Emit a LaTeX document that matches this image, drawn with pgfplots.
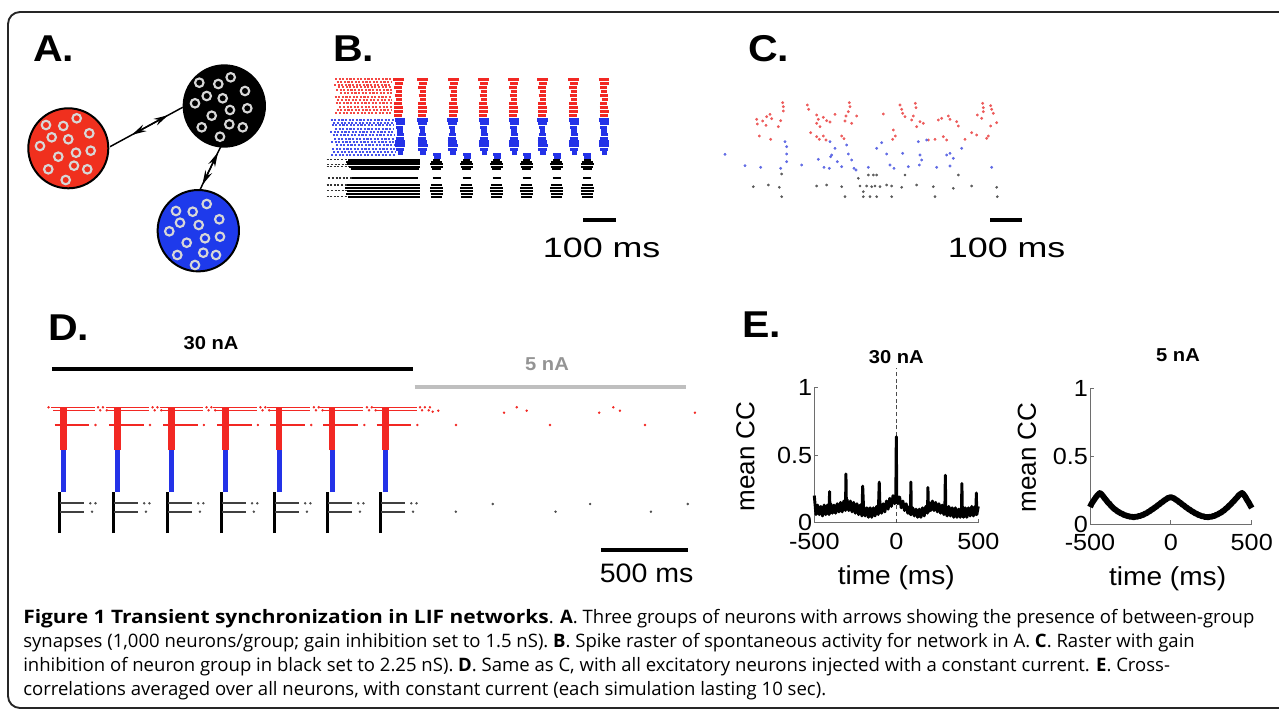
\documentclass[border=0pt]{standalone}
\usepackage{fontspec}
\setmainfont{Liberation Sans}
\newfontfamily\capfont{Open Sans}
\usepackage{pgfplots}
\pgfplotsset{compat=1.18}
\usetikzlibrary{arrows.meta,calc}

\definecolor{gred}{RGB}{240,48,30}
\definecolor{gblue}{RGB}{30,58,235}
\definecolor{ring}{RGB}{215,215,215}
\definecolor{rred}{RGB}{242,40,35}
\definecolor{rblue}{RGB}{35,50,232}
\definecolor{cred}{RGB}{236,90,90}
\definecolor{cblue}{RGB}{95,105,228}
\definecolor{cgray}{RGB}{90,90,90}
\definecolor{axgray}{RGB}{110,110,110}

\newcommand\sx[2]{\scalebox{#1}[1]{#2}}

\pgfplotsset{
  raster/.style={hide axis, clip=false, anchor=south west},
  hseg/.style={quiver={u=\thisrow{u},v=0}},
  vseg/.style={quiver={u=0,v=\thisrow{v}}},
  cc/.style={scale only axis, anchor=south west,
    xmin=-500, xmax=500, ymin=0, ymax=1, clip=false,
    axis x line*=bottom, axis y line*=left,
    axis line style={-, axgray, line width=0.7pt},
    xtick={-500,0,500}, xticklabels={\sx{1.08}{-500},\sx{1.08}{0},\sx{1.08}{500}},
    ytick={0,0.5,1}, yticklabels={\sx{1.08}{0},\sx{1.08}{0.5},\sx{1.08}{1}},
    tick align=inside, major tick length=3pt,
    tick style={axgray, line width=0.6pt},
    tick label style={font=\fontsize{17.5}{17.5}\selectfont},
    xticklabel style={yshift=-4pt}, yticklabel style={xshift=2pt},
    xlabel={\sx{1.08}{time (ms)}}, ylabel={mean CC},
    label style={font=\fontsize{19.5}{19.5}\selectfont},
    title style={font=\fontsize{14}{14}\selectfont\bfseries, anchor=center}},
}

\begin{document}
\begin{tikzpicture}
\useasboundingbox (0,0) rectangle (959.25pt,-534.75pt);
\begin{scope}[x=0.75pt,y=-0.75pt]

% frame
\draw[line width=1.4pt, black!85, rounded corners=9] (1300,12) -- (8,12) -- (8,708) -- (1300,708);

% panel letters
\foreach \t/\px/\py in {A./33/62, B./333/62, C./748/62, D./48/340, E./742/337}
  \node[anchor=base west, inner sep=0, font=\fontsize{28}{28}\selectfont\bfseries] at (\px,\py) {\sx{1.1}{\t}};

% ---------- A: network ----------
\coordinate (ra) at (110,146.7); \coordinate (kb) at (182.7,107.3);
\coordinate (ka) at (220.7,146.7); \coordinate (bb) at (198.3,193.3);
\draw[line width=1.1pt] (ra) -- (kb);
\draw[line width=1.1pt] (ka) -- (bb);
\draw[line width=1.1pt, -{Stealth[length=11pt,width=5.5pt]}] ($(ra)!0.53!(kb)$) -- ($(ra)!0.80!(kb)$);
\draw[line width=1.1pt, -{Stealth[length=11pt,width=5.5pt]}] ($(ra)!0.53!(kb)$) -- ($(ra)!0.30!(kb)$);
\draw[line width=1.1pt, -{Stealth[length=11pt,width=5.5pt]}] ($(ka)!0.47!(bb)$) -- ($(ka)!0.12!(bb)$);
\draw[line width=1.1pt, -{Stealth[length=11pt,width=5.5pt]}] ($(ka)!0.47!(bb)$) -- ($(ka)!0.82!(bb)$);
\filldraw[fill=gred, draw=black, line width=1.5pt] (68.3,148.3) circle[radius=30pt];
\filldraw[fill=black, draw=black, line width=1.5pt] (224.3,106) circle[radius=30.5pt];
\filldraw[fill=gblue, draw=black, line width=1.5pt] (198.3,230.7) circle[radius=30.5pt];
\foreach \p in {(46,125),(63.3,126),(76.7,118.3),(89.3,133.3),(51.7,137.3),(68.3,139.3),(40,146),(58.3,156.7),(76,152.7),(90.7,150.7),(48.3,169.3),(74,165.7),(87.3,169.3),(65.7,180),
  (199.3,82.7),(218.3,84),(230.7,77.3),(245,91),(195,103.3),(206.7,96),(222.7,98.3),(247.3,108.3),(211.7,115.7),(230,110),(201.7,127.3),(229.3,124.3),(242.7,127.3),(220,136.7),
  (176,211),(192.7,211.7),(206.7,204),(219.3,219.3),(180,222.7),(198.7,225),(169.3,231.3),(186.7,242.7),(205,238.3),(220,236.7),(177.3,255),(203.3,252.7),(216,255),(195,265)}
  \draw[ring, line width=1.6pt] \p circle[radius=3.2pt];

% ---------- B: raster, spontaneous ----------
\begin{axis}[raster, at={(240pt,-150pt)}, x=0.25pt, y=0.25pt, xmin=0, xmax=900, ymin=0, ymax=370]
% red block (sparse rows)
\addplot[hseg, rred!85, line width=1.3pt, dash pattern=on 1.6pt off 1.1pt] table[row sep=\\] {
x y u\\ 45 362 170\\ 50 354 165\\ 42 346 172\\ 55 338 160\\ 48 330 167\\ 60 320 155\\
44 310 170\\ 52 300 163\\ 47 290 168\\ 58 280 157\\ 50 270 165\\ 46 260 169\\};
% red bursts
\addplot[hseg, rred, line width=2.3pt] table[row sep=\\] {
x y u\\
219 362 32\\ 224 350 26\\ 223 338 22\\ 227 326 18\\ 224 314 22\\ 228 302 18\\ 223 290 22\\ 222 278 26\\ 222 266 28\\ 223 254 24\\
291 362 32\\ 296 350 26\\ 295 338 22\\ 299 326 18\\ 296 314 22\\ 300 302 18\\ 295 290 22\\ 294 278 26\\ 294 266 28\\ 295 254 24\\
384 362 32\\ 389 350 26\\ 388 338 22\\ 392 326 18\\ 389 314 22\\ 393 302 18\\ 388 290 22\\ 387 278 26\\ 387 266 28\\ 388 254 24\\
474 362 32\\ 479 350 26\\ 478 338 22\\ 482 326 18\\ 479 314 22\\ 483 302 18\\ 478 290 22\\ 477 278 26\\ 477 266 28\\ 478 254 24\\
564 362 32\\ 569 350 26\\ 568 338 22\\ 572 326 18\\ 569 314 22\\ 573 302 18\\ 568 290 22\\ 567 278 26\\ 567 266 28\\ 568 254 24\\
651 362 32\\ 656 350 26\\ 655 338 22\\ 659 326 18\\ 656 314 22\\ 660 302 18\\ 655 290 22\\ 654 278 26\\ 654 266 28\\ 655 254 24\\
744 362 32\\ 749 350 26\\ 748 338 22\\ 752 326 18\\ 749 314 22\\ 753 302 18\\ 748 290 22\\ 747 278 26\\ 747 266 28\\ 748 254 24\\
836 362 32\\ 841 350 26\\ 840 338 22\\ 844 326 18\\ 841 314 22\\ 845 302 18\\ 840 290 22\\ 839 278 26\\ 839 266 28\\ 840 254 24\\};
% blue block
\addplot[hseg, rblue!85, line width=1.3pt, dash pattern=on 1.6pt off 1.1pt] table[row sep=\\] {
x y u\\ 32 240 190\\ 40 232 182\\ 35 224 188\\ 45 214 178\\ 30 204 192\\ 38 194 185\\
42 184 180\\ 33 174 190\\ 48 164 176\\ 36 154 188\\ 40 144 184\\ 34 134 190\\};
% blue bursts
\addplot[hseg, rblue, line width=2.3pt] table[row sep=\\] {
x y u\\
224 240 32\\ 227 229 28\\ 229 218 20\\ 232 207 16\\ 231 196 20\\ 228 185 24\\ 226 174 28\\ 226 163 30\\ 227 152 26\\ 234 141 16\\
291 240 32\\ 294 229 28\\ 296 218 20\\ 299 207 16\\ 298 196 20\\ 295 185 24\\ 293 174 28\\ 293 163 30\\ 294 152 26\\ 301 141 16\\
381 240 32\\ 384 229 28\\ 386 218 20\\ 389 207 16\\ 388 196 20\\ 385 185 24\\ 383 174 28\\ 383 163 30\\ 384 152 26\\ 391 141 16\\
476 240 32\\ 479 229 28\\ 481 218 20\\ 484 207 16\\ 483 196 20\\ 480 185 24\\ 478 174 28\\ 478 163 30\\ 479 152 26\\ 486 141 16\\
566 240 32\\ 569 229 28\\ 571 218 20\\ 574 207 16\\ 573 196 20\\ 570 185 24\\ 568 174 28\\ 568 163 30\\ 569 152 26\\ 576 141 16\\
651 240 32\\ 654 229 28\\ 656 218 20\\ 659 207 16\\ 658 196 20\\ 655 185 24\\ 653 174 28\\ 653 163 30\\ 654 152 26\\ 661 141 16\\
746 240 32\\ 749 229 28\\ 751 218 20\\ 754 207 16\\ 753 196 20\\ 750 185 24\\ 748 174 28\\ 748 163 30\\ 749 152 26\\ 756 141 16\\
836 240 32\\ 839 229 28\\ 841 218 20\\ 844 207 16\\ 843 196 20\\ 840 185 24\\ 838 174 28\\ 838 163 30\\ 839 152 26\\ 846 141 16\\
340 136 24\\ 342 128 20\\ 430 136 24\\ 432 128 20\\ 520 136 24\\ 522 128 20\\
610 136 24\\ 612 128 20\\ 700 136 24\\ 702 128 20\\ 790 136 24\\ 792 128 20\\};
% black block
\addplot[hseg, black!80, line width=1.2pt, dash pattern=on 1.5pt off 1.2pt] table[row sep=\\] {
x y u\\ 20 121 62\\ 22 107 58\\ 20 100 65\\ 25 66 70\\ 20 45 60\\ 22 28 58\\ 20 10 64\\};
\addplot[hseg, black, line width=1.7pt] table[row sep=\\] {
x y u\\ 85 121 215\\ 78 114 222\\ 80 107 220\\ 88 100 212\\ 92 92 205\\ 95 66 200\\
82 45 218\\ 76 37 224\\ 80 28 220\\ 78 19 222\\ 84 10 216\\};
% black bursts
\addplot[hseg, black, line width=1.7pt] table[row sep=\\] {
x y u\\
340 121 20\\ 333 114 34\\ 331 107 38\\ 332 100 36\\ 336 92 28\\ 338 66 24\\ 333 45 34\\ 331 37 38\\ 331 28 38\\ 332 19 36\\ 334 10 32\\
430 121 20\\ 423 114 34\\ 421 107 38\\ 422 100 36\\ 426 92 28\\ 428 66 24\\ 423 45 34\\ 421 37 38\\ 421 28 38\\ 422 19 36\\ 424 10 32\\
520 121 20\\ 513 114 34\\ 511 107 38\\ 512 100 36\\ 516 92 28\\ 518 66 24\\ 513 45 34\\ 511 37 38\\ 511 28 38\\ 512 19 36\\ 514 10 32\\
610 121 20\\ 603 114 34\\ 601 107 38\\ 602 100 36\\ 606 92 28\\ 608 66 24\\ 603 45 34\\ 601 37 38\\ 601 28 38\\ 602 19 36\\ 604 10 32\\
700 121 20\\ 693 114 34\\ 691 107 38\\ 692 100 36\\ 696 92 28\\ 698 66 24\\ 693 45 34\\ 691 37 38\\ 691 28 38\\ 692 19 36\\ 694 10 32\\
792 121 20\\ 785 114 34\\ 783 107 38\\ 784 100 36\\ 788 92 28\\ 790 66 24\\ 785 45 34\\ 783 37 38\\ 783 28 38\\ 784 19 36\\ 786 10 32\\};
% scale bar
\addplot[black, line width=2.4pt] coordinates {(790,-60) (887,-60)};
\node[font=\fontsize{21}{21}\selectfont] at (axis cs:845,-145) {\sx{1.28}{100 ms}};
\end{axis}

% ---------- C: raster, stronger inhibition ----------
\begin{axis}[raster, at={(540pt,-150pt)}, x=0.25pt, y=0.25pt, xmin=0, xmax=900, ymin=0, ymax=370]
\addplot[only marks, mark=*, mark size=0.85pt, cred, mark options={draw=none}] table[row sep=\\] {
x y\\ 110 242\\ 112 228\\ 128 237\\ 140 250\\ 150 257\\ 155 244\\ 138 224\\ 118 192\\ 152 182\\ 188 292\\ 190 280\\ 190 267\\ 182 238\\ 175 220\\
262 285\\ 266 272\\ 290 255\\ 295 242\\ 290 230\\ 300 220\\ 310 248\\ 320 238\\ 330 234\\ 345 257\\ 272 202\\ 290 190\\ 298 182\\ 310 192\\ 318 180\\
388 292\\ 390 280\\ 385 265\\ 378 252\\ 375 237\\ 395 230\\ 410 252\\ 365 192\\ 372 184\\
490 258\\ 540 285\\ 545 272\\ 548 260\\ 555 250\\ 520 210\\ 518 182\\ 526 192\\
586 290\\ 588 277\\ 580 252\\ 575 240\\ 600 235\\ 590 220\\ 610 230\\ 625 180\\ 645 182\\
655 240\\ 665 245\\ 685 252\\ 690 242\\ 710 235\\ 715 222\\ 670 190\\ 680 180\\ 735 182\\
772 255\\ 785 245\\ 788 290\\ 790 277\\ 790 265\\ 812 283\\ 815 272\\ 820 260\\ 830 232\\ 812 222\\ 770 195\\ 755 202\\ 800 185\\ 805 192\\};
\addplot[only marks, mark=*, mark size=0.85pt, cblue, mark options={draw=none}] table[row sep=\\] {
x y\\ 15 137\\ 75 103\\ 122 98\\ 182 95\\ 195 175\\ 200 160\\ 200 138\\ 200 115\\ 245 105\\ 295 122\\ 312 98\\ 328 95\\ 330 175\\ 335 135\\ 332 130\\
345 155\\ 380 165\\ 385 138\\ 395 120\\ 402 95\\ 408 90\\ 352 115\\ 365 100\\ 445 98\\ 470 155\\ 485 172\\ 500 138\\ 510 105\\ 522 95\\ 548 140\\
565 100\\ 595 175\\ 600 135\\ 605 120\\ 598 105\\ 620 180\\ 650 98\\ 680 135\\ 690 140\\ 690 102\\ 700 125\\ 725 155\\ 815 98\\};
\addplot[only marks, mark=*, mark size=0.8pt, cgray, mark options={draw=none}] table[row sep=\\] {
x y\\ 185 78\\ 185 10\\ 100 40\\ 145 45\\ 178 38\\ 290 42\\ 320 45\\ 365 40\\ 375 10\\ 415 65\\ 420 42\\ 430 25\\ 430 10\\ 445 75\\ 460 75\\ 470 75\\
450 10\\ 470 10\\ 480 40\\ 500 45\\ 515 42\\ 515 10\\ 545 38\\ 555 75\\ 590 45\\ 640 40\\ 645 10\\ 700 35\\ 715 75\\ 755 42\\ 830 38\\ 832 10\\ 440 42\\ 455 40\\ 465 42\\};
\addplot[black, line width=2.4pt] coordinates {(810,-60) (905,-60)};
\node[font=\fontsize{21}{21}\selectfont] at (axis cs:860,-145) {\sx{1.28}{100 ms}};
\end{axis}

% ---------- D: raster with injected current ----------
\begin{axis}[raster, at={(39pt,-399.75pt)}, x=0.1305pt, y=0.75pt, xmin=0, xmax=3700, ymin=0, ymax=200]
\addplot[black, line width=3.2pt] coordinates {(0,164) (2075,164)};
\addplot[black!25, line width=3.2pt] coordinates {(2084,146.3) (3642,146.3)};
\node[font=\fontsize{14}{14}\selectfont\bfseries] at (axis cs:914,190) {\sx{1.08}{30 nA}};
\node[font=\fontsize{14}{14}\selectfont\bfseries, black!42] at (axis cs:2845,169) {\sx{1.08}{5 nA}};
% red streaks
\addplot[hseg, rred, line width=1.2pt] table[row sep=\\] {
x y u\\ -5 125.7 250\\ 5 122.7 240\\ 15 108 200\\ 308 125.7 250\\ 318 122.7 240\\ 328 108 200\\
618 125.7 250\\ 628 122.7 240\\ 638 108 200\\ 928 125.7 250\\ 938 122.7 240\\ 948 108 200\\
1235 125.7 250\\ 1245 122.7 240\\ 1255 108 200\\ 1540 125.7 250\\ 1550 122.7 240\\ 1560 108 200\\
1845 125.7 250\\ 1855 122.7 240\\ 1865 108 200\\};
% red, blue columns and black lines
\addplot[vseg, rred, line width=5pt] table[row sep=\\] {
x y v\\ 65 83 42\\ 378 83 42\\ 688 83 42\\ 998 83 42\\ 1305 83 42\\ 1610 83 42\\ 1915 83 42\\};
\addplot[vseg, rblue, line width=3.8pt] table[row sep=\\] {
x y v\\ 65 41 42\\ 378 41 42\\ 688 41 42\\ 998 41 42\\ 1305 41 42\\ 1610 41 42\\ 1915 41 42\\};
\addplot[vseg, black, line width=2.2pt] table[row sep=\\] {
x y v\\ 45 0 41\\ 355 0 41\\ 665 0 41\\ 975 0 41\\ 1280 0 41\\ 1585 0 41\\ 1890 0 41\\};
\addplot[hseg, black!75, line width=1.5pt] table[row sep=\\] {
x y u\\ 45 29.7 140\\ 45 21.3 140\\ 355 29.7 140\\ 355 21.3 140\\ 665 29.7 140\\ 665 21.3 140\\
975 29.7 140\\ 975 21.3 140\\ 1280 29.7 140\\ 1280 21.3 140\\ 1585 29.7 140\\ 1585 21.3 140\\ 1890 29.7 140\\ 1890 21.3 140\\};
% isolated spikes
\addplot[only marks, mark=*, mark size=0.7pt, rred, mark options={draw=none}] table[row sep=\\] {
x y\\ -20 125.7\\ 265 125.7\\ 293 125.7\\ 277 122.7\\ 315 122.7\\ 250 108\\
578 125.7\\ 606 125.7\\ 590 122.7\\ 628 122.7\\ 563 108\\
888 125.7\\ 916 125.7\\ 900 122.7\\ 938 122.7\\ 873 108\\
1198 125.7\\ 1226 125.7\\ 1210 122.7\\ 1248 122.7\\ 1183 108\\
1505 125.7\\ 1533 125.7\\ 1517 122.7\\ 1555 122.7\\ 1490 108\\
1810 125.7\\ 1838 125.7\\ 1822 122.7\\ 1860 122.7\\ 1795 108\\
2115 125.7\\ 2143 125.7\\ 2127 122.7\\ 2165 122.7\\ 2100 108\\
2172 125.7\\ 2188 121.3\\ 2220 122.3\\ 2322 108\\ 2598 120.3\\ 2671 125.7\\ 2728 122.3\\ 2862 108\\
3145 120.3\\ 3226 125.7\\ 3264 122.3\\ 3408 108\\ 3695 120.3\\};
\addplot[only marks, mark=*, mark size=0.7pt, black!70, mark options={draw=none}] table[row sep=\\] {
x y\\ 220 29.7\\ 250 29.7\\ 230 21.3\\ 530 29.7\\ 560 29.7\\ 540 21.3\\ 840 29.7\\ 870 29.7\\ 850 21.3\\
1150 29.7\\ 1180 29.7\\ 1160 21.3\\ 1455 29.7\\ 1485 29.7\\ 1465 21.3\\ 1760 29.7\\ 1790 29.7\\ 1770 21.3\\
2065 29.7\\ 2095 29.7\\ 2075 21.3\\ 2321 21.3\\ 2533 29\\ 2894 21.3\\ 3093 29\\ 3442 21.3\\ 3654 29\\};
\addplot[black, line width=3pt] coordinates {(3155,-17) (3655,-17)};
\node[font=\fontsize{20}{20}\selectfont] at (axis cs:3417,-40) {\sx{1.07}{500 ms}};
\end{axis}

% ---------- E: cross-correlations ----------
\begin{axis}[cc, at={(610.725pt,-392.025pt)}, width=123pt, height=101.6pt, title={\sx{1.08}{30 nA}},
  title style={at={(axis description cs:0.5,1.165)}},
  xlabel style={at={(axis description cs:0.5,-0.41)}, anchor=center},
  ylabel style={at={(axis description cs:-0.42,0.49)}, anchor=center}]
\addplot[densely dashed, black!70, line width=0.8pt] coordinates {(0,0) (0,1.14)};
\addplot[black, line width=2.2pt, line join=round] table[row sep=\\] {
x y\\ -500 0.20\\ -495 0.13\\ -490 0.06\\ -480 0.13\\ -470 0.06\\ -460 0.12\\ -450 0.05\\ -440 0.13\\ -430 0.06\\ -420 0.13\\
-410 0.06\\ -407 0.23\\ -404 0.07\\ -400 0.14\\ -390 0.07\\ -380 0.13\\ -370 0.07\\ -360 0.14\\ -350 0.08\\ -340 0.15\\
-330 0.08\\ -320 0.16\\ -310 0.09\\ -307 0.36\\ -304 0.10\\ -300 0.17\\ -290 0.09\\ -280 0.16\\ -270 0.08\\ -260 0.15\\
-250 0.07\\ -240 0.14\\ -230 0.06\\ -220 0.13\\ -210 0.05\\ -205 0.27\\ -200 0.12\\ -190 0.05\\ -180 0.11\\ -170 0.04\\
-160 0.11\\ -150 0.04\\ -140 0.11\\ -130 0.05\\ -120 0.12\\ -110 0.06\\ -104 0.30\\ -100 0.13\\ -90 0.07\\ -80 0.14\\
-70 0.08\\ -60 0.16\\ -50 0.10\\ -40 0.18\\ -30 0.12\\ -20 0.20\\ -10 0.14\\ -3 0.20\\ 0 0.635\\ 3 0.19\\
10 0.14\\ 20 0.19\\ 30 0.11\\ 40 0.16\\ 50 0.09\\ 60 0.14\\ 70 0.07\\ 80 0.12\\ 86 0.06\\ 89 0.30\\
92 0.06\\ 100 0.11\\ 110 0.05\\ 120 0.10\\ 130 0.04\\ 140 0.10\\ 150 0.04\\ 160 0.11\\ 170 0.05\\ 180 0.12\\
190 0.07\\ 193 0.26\\ 196 0.08\\ 200 0.15\\ 210 0.09\\ 220 0.16\\ 230 0.09\\ 240 0.15\\ 250 0.08\\ 260 0.14\\
270 0.07\\ 280 0.13\\ 290 0.06\\ 296 0.10\\ 299 0.35\\ 302 0.08\\ 310 0.05\\ 320 0.12\\ 330 0.05\\ 340 0.11\\
350 0.04\\ 360 0.11\\ 370 0.04\\ 380 0.10\\ 390 0.04\\ 397 0.09\\ 400 0.29\\ 403 0.07\\ 410 0.04\\ 420 0.11\\
430 0.04\\ 440 0.11\\ 450 0.05\\ 460 0.12\\ 470 0.05\\ 480 0.12\\ 485 0.06\\ 488 0.22\\ 491 0.06\\ 500 0.12\\};
\end{axis}

\begin{axis}[cc, at={(817.5pt,-393pt)}, width=121.3pt, height=101.8pt, title={\sx{1.08}{5 nA}},
  title style={at={(axis description cs:0.544,1.185)}},
  xlabel style={at={(axis description cs:0.48,-0.40)}, anchor=center},
  ylabel style={at={(axis description cs:-0.39,0.49)}, anchor=center}]
\addplot[black, line width=4.4pt, line join=round] table[row sep=\\] {
x y\\ -500 0.125\\ -490 0.15\\ -480 0.168\\ -470 0.186\\ -460 0.203\\ -450 0.216\\ -440 0.228\\ -430 0.221\\ -420 0.206\\ -410 0.19\\
-400 0.176\\ -390 0.16\\ -380 0.149\\ -370 0.134\\ -360 0.123\\ -350 0.111\\ -340 0.103\\ -330 0.093\\ -320 0.087\\ -310 0.079\\
-300 0.075\\ -290 0.067\\ -280 0.064\\ -270 0.059\\ -260 0.057\\ -250 0.053\\ -240 0.053\\ -230 0.050\\ -220 0.053\\ -210 0.053\\
-200 0.058\\ -190 0.059\\ -180 0.065\\ -170 0.068\\ -160 0.076\\ -150 0.080\\ -140 0.089\\ -130 0.095\\ -120 0.105\\ -110 0.111\\
-100 0.121\\ -90 0.128\\ -80 0.139\\ -70 0.146\\ -60 0.157\\ -50 0.164\\ -40 0.175\\ -30 0.181\\ -20 0.191\\ -10 0.194\\
0 0.198\\ 10 0.193\\ 20 0.189\\ 30 0.179\\ 40 0.173\\ 50 0.162\\ 60 0.155\\ 70 0.144\\ 80 0.137\\ 90 0.126\\
100 0.119\\ 110 0.109\\ 120 0.103\\ 130 0.093\\ 140 0.088\\ 150 0.079\\ 160 0.075\\ 170 0.067\\ 180 0.064\\ 190 0.058\\
200 0.057\\ 210 0.052\\ 220 0.052\\ 230 0.050\\ 240 0.053\\ 250 0.053\\ 260 0.058\\ 270 0.060\\ 280 0.067\\ 290 0.071\\
300 0.079\\ 310 0.084\\ 320 0.094\\ 330 0.101\\ 340 0.113\\ 350 0.122\\ 360 0.135\\ 370 0.145\\ 380 0.159\\ 390 0.170\\
400 0.185\\ 410 0.197\\ 420 0.212\\ 430 0.221\\ 440 0.229\\ 450 0.217\\ 460 0.201\\ 470 0.179\\ 480 0.161\\ 490 0.139\\ 500 0.118\\};
\end{axis}

% ---------- caption ----------
\begin{scope}[every node/.style={anchor=base west, inner sep=0, font=\capfont\fontsize{13.9}{16}\selectfont}]
\node at (23,623) {\sx{1.13}{\textbf{Figure 1 Transient synchronization in LIF networks}}. \textbf{A}. Three groups of neurons with arrows showing the presence of between-group};
\node at (23,647) {synapses (1,000 neurons/group; gain inhibition set to 1.5 nS). \textbf{B}. Spike raster of spontaneous activity for network in A. \textbf{C}. Raster with gain};
\node at (23,671) {inhibition of neuron group in black set to 2.25 nS). \textbf{D}. Same as C, with all excitatory neurons injected with a constant current. \textbf{E}. Cross-};
\node at (23,695) {correlations averaged over all neurons, with constant current (each simulation lasting 10 sec).};
\end{scope}

\end{scope}
\end{tikzpicture}
\end{document}
